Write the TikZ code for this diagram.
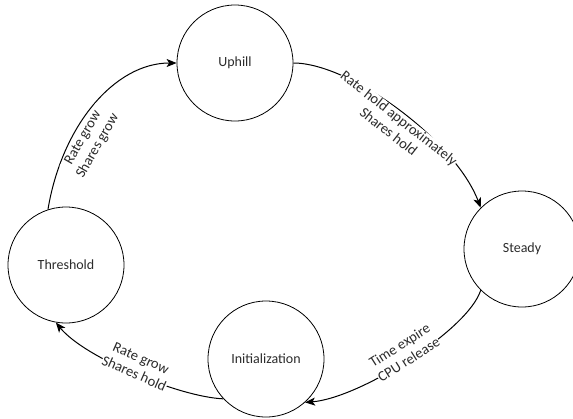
\documentclass[tikz,border=0pt]{standalone}
\usepackage{fontspec}
\setmainfont{Carlito}
\usetikzlibrary{arrows.meta}
\definecolor{labeltext}{HTML}{2B2B2B}
\tikzset{
  state/.style={draw, circle, minimum size=116pt, inner sep=0pt, line width=0.8pt,
    font=\fontsize{14}{16}\selectfont, text=labeltext},
  trans/.style={-{Stealth[length=10pt, width=8pt, inset=2.5pt]}, line width=1pt},
  translabel/.style={sloped, fill=white, inner sep=0.5pt, align=center, text=labeltext,
    font=\fontsize{14.5}{17}\selectfont}
}

\begin{document}
\begin{tikzpicture}[x=1pt, y=1pt]
    \useasboundingbox (0,0) rectangle (573,-418);

    % States
    \node[state] (up)   at (235,-63)  {Uphill};
    \node[state] (st)   at (522,-249) {Steady};
    \node[state] (thr)  at (66,-265)  {Threshold};
    \node[state] (init) at (266,-359) {Initialization};

    % Transitions
    \draw[trans] (thr.108) .. controls (62,-125) and (115,-63) ..
        node[translabel, pos=0.34, anchor=north, yshift=-3pt] {Rate grow\\Shares grow} (up.180);
    \draw[trans] (up.0) .. controls (350,-63) and (455,-140) ..
        node[translabel, pos=0.52, anchor=north] {Rate hold approximately\\Shares hold} (st.135);
    \draw[trans] (st.225) .. controls (468,-330) and (360,-398) ..
        node[translabel, pos=0.5, anchor=south, yshift=-6pt] {Time expire\\CPU release} (init.312);
    \draw[trans] (init.223) .. controls (180,-397) and (85,-358) ..
        node[translabel, pos=0.5, anchor=south, yshift=-6pt] {Rate grow\\Shares hold} (thr.260);
\end{tikzpicture}
\end{document}
